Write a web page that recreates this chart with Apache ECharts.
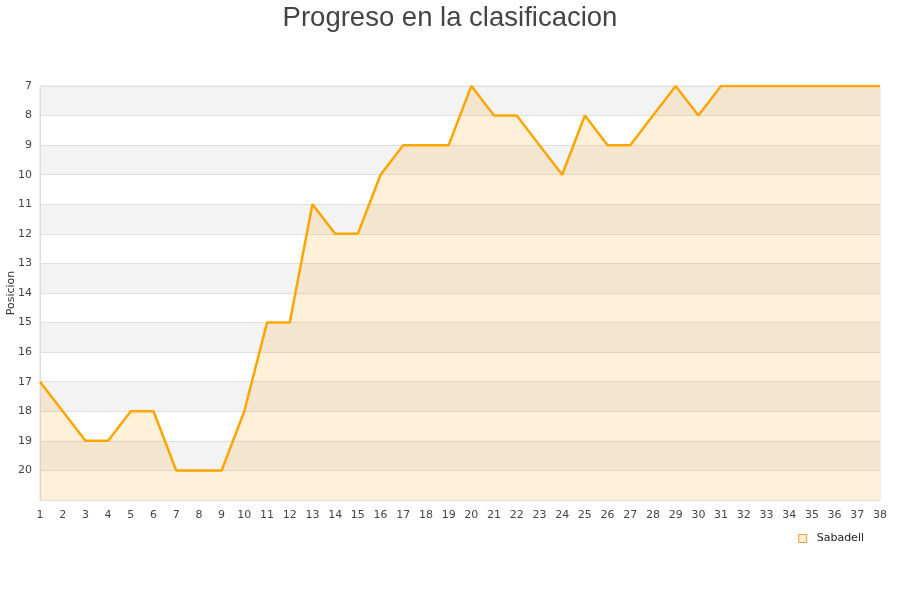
<!DOCTYPE html>
<html>
<head>
<meta charset="utf-8">
<script src="https://cdn.jsdelivr.net/npm/echarts@6/dist/echarts.min.js"></script>
<style>html,body{margin:0;padding:0;background:#fff}#c{width:900px;height:600px}</style>
</head>
<body>
<div id="c"></div>
<script>
var jornadas = [];
for (var i = 1; i <= 38; i++) jornadas.push(String(i));
var posiciones = [17,18,19,19,18,18,20,20,20,18,15,15,11,12,12,10,9,9,9,7,8,8,9,10,8,9,9,8,7,8,7,7,7,7,7,7,7,7];
var equipo = 'Sabadell';
var titulo = 'Progreso en la clasificacion';
var ejeY = 'Posicion';

var chart = echarts.init(document.getElementById('c'));
chart.setOption({
  animation: false,
  title: {
    text: titulo, left: 'center', top: -1,
    textStyle: {fontFamily: 'Liberation Sans', fontSize: 27.5, fontWeight: 'normal', color: '#444'}
  },
  grid: {left: 40, right: 20, top: 86, bottom: 100, show: true, borderColor: '#ddd', borderWidth: 1,
         containLabel: false, outerBoundsMode: 'none'},
  legend: {
    right: 31, top: 528, icon: 'rect', itemWidth: 8, itemHeight: 8, itemGap: 8,
    textStyle: {fontFamily: 'DejaVu Sans', fontSize: 11, color: '#222', padding: [0, 0, 0, 5]},
    data: [{name: equipo, itemStyle: {color: '#ffeccc', borderColor: '#e0a040', borderWidth: 1}}]
  },
  xAxis: {
    type: 'category', data: jornadas, boundaryGap: false,
    axisLine: {lineStyle: {color: '#ddd'}},
    axisTick: {show: false},
    axisLabel: {interval: 0, fontFamily: 'DejaVu Sans', fontSize: 11, color: '#444', margin: 10},
    splitLine: {show: false}
  },
  yAxis: {
    type: 'value', inverse: true, min: 7, max: 21, interval: 1,
    name: ejeY, nameLocation: 'middle', nameGap: 23, nameRotate: 90, nameMoveOverlap: false,
    nameTextStyle: {fontFamily: 'DejaVu Sans', fontSize: 11, color: '#333'},
    axisLine: {show: true, lineStyle: {color: '#ddd'}},
    axisTick: {show: false},
    axisLabel: {fontFamily: 'DejaVu Sans', fontSize: 11, color: '#444', margin: 8,
      formatter: function (v) { return v === 21 ? '' : String(v); }},
    splitLine: {show: true, lineStyle: {color: '#e0e0e0'}},
    splitArea: {show: true, areaStyle: {color: ['#f3f3f3', '#ffffff']}}
  },
  series: [{
    name: equipo, type: 'line', data: posiciones,
    symbol: 'none',
    lineStyle: {color: '#ffa500', width: 2.5},
    itemStyle: {color: '#ffa500'},
    areaStyle: {color: 'rgba(255,160,0,0.21)', origin: 'end'}
  }]
});
</script>
</body>
</html>
